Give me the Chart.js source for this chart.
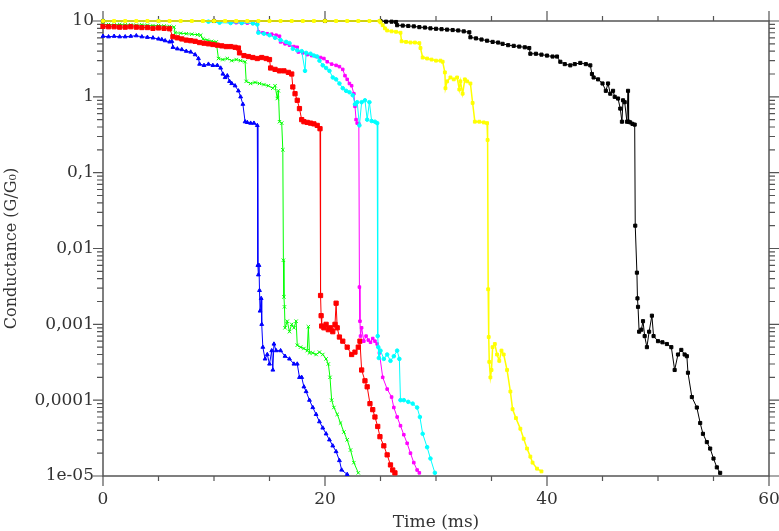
<!DOCTYPE html>
<html>
<head>
<meta charset="utf-8">
<script src="https://cdn.jsdelivr.net/npm/chart.js@4.4.0/dist/chart.umd.min.js"></script>
<style>
  html, body { margin: 0; padding: 0; background: #fff; }
  #wrap { width: 779px; height: 531px; }
</style>
</head>
<body>
<div id="wrap"><canvas id="chart"></canvas></div>
<script>
// axis ticks
const xMajor = [0, 20, 40, 60];
const yTicks = [1e-5, 1e-4, 1e-3, 1e-2, 1e-1, 1, 10];
const yTickLabels = ['1e-05', '0,0001', '0,001', '0,01', '0,1', '1', '10'];

// traces: [time (ms), conductance (G/G0)]
const blue = [[0,6.3],[0.5,6.2],[1,6.3],[1.5,6.2],[2,6.2],[2.5,6.3],[3,6.4],[3.5,6.2],[4,6.1],[4.5,6.0],[5,5.8],[5.3,5.7],[5.6,5.5],[6.0,5.3],[6.2,5.4],[6.3,4.5],[6.7,4.3],[7.1,4.2],[7.5,4.0],[7.9,3.9],[8.3,3.6],[8.6,3.2],[8.7,2.7],[9.1,2.6],[9.5,2.7],[9.9,2.6],[10.3,2.6],[10.6,2.4],[10.8,2.0],[11.0,1.8],[11.2,1.9],[11.4,1.6],[11.6,1.5],[11.9,1.4],[12.2,1.2],[12.4,1.0],[12.6,0.8],[12.8,0.47],[13.0,0.46],[13.3,0.45],[13.6,0.45],[13.9,0.42],[13.95,0.006],[14.0,0.0045],[14.05,0.006],[14.1,0.0028],[14.15,0.0015],[14.25,0.0022],[14.3,0.001],[14.4,0.0005],[14.6,0.00035],[14.8,0.0004],[15.0,0.0003],[15.2,0.00045],[15.3,0.00025],[15.4,0.00055],[15.6,0.00045],[16.0,0.00045],[16.4,0.00038],[16.8,0.00035],[17.2,0.0003],[17.5,0.0003],[17.7,0.0002],[17.9,0.0002],[18.1,0.00015],[18.3,0.00013],[18.6,0.0001],[18.9,8e-5],[19.2,6.5e-5],[19.5,5.2e-5],[19.8,4.3e-5],[20.1,3.6e-5],[20.4,3.0e-5],[20.7,2.5e-5],[21.0,2.1e-5],[21.3,1.6e-5],[21.5,1.2e-5],[22.0,1.05e-5]];

const green = [[0,9.0],[0.5,9.0],[1,8.9],[1.5,9.0],[2,8.9],[2.5,8.9],[3,8.8],[3.5,8.9],[4,8.8],[4.5,8.7],[5,8.7],[5.5,8.6],[6,8.5],[6.4,8.3],[6.5,7.0],[7,6.9],[7.5,6.8],[8,6.7],[8.5,6.6],[8.8,6.5],[9.0,5.8],[9.4,5.6],[9.8,5.4],[10.2,5.3],[10.4,3.2],[10.8,3.1],[11.2,3.2],[11.6,3.0],[12.0,3.1],[12.4,3.0],[12.8,2.9],[12.9,1.6],[13.3,1.5],[13.7,1.55],[14.1,1.5],[14.5,1.45],[14.9,1.4],[15.3,1.3],[15.5,1.4],[15.7,0.95],[15.8,1.2],[15.9,0.47],[16.1,0.45],[16.2,0.2],[16.25,0.007],[16.3,0.0023],[16.35,0.0017],[16.4,0.0009],[16.6,0.0011],[16.8,0.0008],[17.0,0.001],[17.2,0.0009],[17.4,0.0011],[17.5,0.00053],[17.8,0.0005],[18.1,0.00048],[18.4,0.00045],[18.5,0.00093],[18.6,0.00042],[18.9,0.00042],[19.2,0.0004],[19.5,0.00043],[19.8,0.0004],[20.1,0.00035],[20.3,0.0003],[20.45,0.0002],[20.6,0.0001],[20.8,8e-5],[21.1,6.5e-5],[21.4,5e-5],[21.7,3.8e-5],[22.0,3e-5],[22.3,2.2e-5],[22.6,1.5e-5],[23.0,1.1e-5]];

const red = [[0,8.5],[0.5,8.4],[1,8.4],[1.5,8.3],[2,8.3],[2.5,8.4],[3,8.3],[3.5,8.2],[4,8.2],[4.5,8.0],[5,8.1],[5.5,8.0],[6.0,7.9],[6.3,6.2],[6.7,6.0],[7.1,5.8],[7.5,5.6],[7.9,5.5],[8.3,5.4],[8.7,5.2],[9.1,5.1],[9.5,5.0],[9.9,4.9],[10.3,4.8],[10.7,4.7],[11.1,4.6],[11.5,4.6],[11.9,4.5],[12.2,4.4],[12.3,3.8],[12.7,3.5],[13.1,3.4],[13.5,3.3],[13.9,3.2],[14.3,3.3],[14.7,3.2],[15.0,3.1],[15.1,2.4],[15.5,2.3],[15.9,2.2],[16.3,2.2],[16.7,2.1],[17.0,2.0],[17.1,1.35],[17.3,1.1],[17.5,0.9],[17.7,0.7],[17.9,0.5],[18.1,0.47],[18.4,0.46],[18.7,0.45],[19.0,0.44],[19.3,0.42],[19.55,0.38],[19.6,0.0024],[19.65,0.0013],[19.7,0.00095],[19.9,0.0009],[20.1,0.001],[20.3,0.00085],[20.5,0.0009],[20.7,0.0008],[20.9,0.001],[21.0,0.0019],[21.1,0.0009],[21.3,0.00068],[21.6,0.0006],[22.0,0.0005],[22.4,0.0004],[22.7,0.00043],[23.0,0.0005],[23.15,0.0006],[23.3,0.00025],[23.6,0.00018],[23.8,0.00015],[24.05,9e-5],[24.3,7.5e-5],[24.5,6e-5],[24.75,4.5e-5],[24.95,3.3e-5],[25.3,2.5e-5],[25.6,1.9e-5],[25.9,1.4e-5],[26.1,1.2e-5],[26.3,1.1e-5]];

const magenta = [[0,10],[5,10],[10,10],[11.5,9.6],[12.0,9.5],[12.5,9.4],[13.0,9.4],[13.5,9.3],[13.9,9.2],[14.0,7.2],[14.4,7.0],[14.8,6.8],[15.2,6.7],[15.6,6.5],[15.9,6.3],[16.0,5.3],[16.4,5.0],[16.8,4.8],[17.2,4.6],[17.5,4.5],[17.6,3.9],[18.0,3.8],[18.4,3.6],[18.8,3.5],[19.2,3.4],[19.6,3.3],[19.9,3.2],[20.2,2.9],[20.6,2.7],[21.0,2.6],[21.3,2.5],[21.6,2.3],[21.8,1.9],[22.0,1.7],[22.2,1.5],[22.4,1.4],[22.6,1.1],[22.7,0.75],[22.8,0.5],[22.9,0.45],[23.05,0.44],[23.1,0.0031],[23.15,0.0011],[23.2,0.0007],[23.3,0.0009],[23.5,0.0006],[23.7,0.0007],[23.9,0.00062],[24.1,0.00058],[24.3,0.00065],[24.5,0.0006],[24.7,0.00055],[24.9,0.00042],[25.2,0.0002],[25.6,0.00014],[26.0,0.00011],[26.2,8e-5],[26.5,6e-5],[26.8,4.6e-5],[27.1,3.5e-5],[27.4,2.7e-5],[27.7,2.0e-5],[28.0,1.5e-5],[28.3,1.2e-5],[28.5,1.1e-5]];

const cyan = [[0,10],[5,10],[9.5,9.8],[10.5,9.5],[11.5,9.4],[12.5,9.4],[13.5,9.3],[13.9,9.0],[14.0,7.0],[14.5,6.8],[15.0,6.5],[15.5,6.0],[16.0,5.6],[16.5,5.3],[16.8,5.1],[17.1,4.3],[17.5,4.1],[17.9,4.0],[18.2,2.2],[18.3,3.8],[18.7,3.7],[19.0,3.5],[19.3,3.4],[19.5,3.0],[19.8,2.6],[20.1,2.4],[20.4,2.2],[20.7,1.8],[21.0,1.7],[21.3,1.5],[21.6,1.3],[21.9,1.2],[22.2,1.15],[22.5,1.05],[22.7,0.8],[22.9,0.85],[23.1,0.42],[23.3,0.85],[23.6,0.9],[23.8,0.5],[24.0,0.85],[24.2,0.48],[24.5,0.47],[24.7,0.45],[24.75,0.0007],[24.8,0.0005],[24.85,0.00036],[25.0,0.00045],[25.3,0.00035],[25.6,0.0004],[25.9,0.00033],[26.2,0.00038],[26.5,0.00045],[26.7,0.00035],[26.8,0.0001],[27.1,1.0e-4],[27.5,9.5e-5],[27.9,9e-5],[28.3,8e-5],[28.55,6e-5],[28.8,3.6e-5],[29.2,2.4e-5],[29.5,1.7e-5],[29.9,1.1e-5]];

const yellow = [[0,10],[1,10],[2,10],[3,10],[4,10],[5,10],[6,10],[7,10],[8,10],[9,10],[10,10],[11,10],[12,10],[13,10],[14,10],[15,10],[16,10],[17,10],[18,10],[19,10],[20,10],[21,10],[22,10],[23,10],[24,10],[24.9,10],[25.0,9.6],[25.2,8.8],[25.4,8.0],[25.6,7.5],[26.0,7.3],[26.4,7.2],[26.8,7.0],[26.9,5.4],[27.3,5.3],[27.7,5.2],[28.1,5.2],[28.5,5.1],[28.6,4.4],[28.8,3.3],[29.2,3.2],[29.6,3.1],[30.0,3.0],[30.4,3.0],[30.6,2.9],[30.8,2.1],[30.85,1.3],[31.0,1.6],[31.3,1.8],[31.6,1.7],[31.9,1.8],[32.1,1.25],[32.2,1.6],[32.4,1.1],[32.6,1.7],[32.8,1.6],[33.1,1.5],[33.3,0.83],[33.5,0.47],[33.9,0.47],[34.3,0.46],[34.6,0.45],[34.65,0.27],[34.7,0.0029],[34.75,0.00068],[34.8,0.00032],[34.9,0.0002],[35.0,0.00025],[35.1,0.0005],[35.3,0.00055],[35.5,0.0004],[35.7,0.00033],[35.9,0.00045],[36.1,0.0004],[36.4,0.00025],[36.7,0.00013],[36.9,7.6e-5],[37.2,5.8e-5],[37.6,4.2e-5],[37.9,3.1e-5],[38.2,2.3e-5],[38.5,1.8e-5],[38.7,1.5e-5],[39.1,1.25e-5],[39.5,1.15e-5]];

const black = [[0,10],[10,10],[20,10],[25,10],[25.5,9.8],[26.0,9.8],[26.4,9.7],[26.5,8.8],[27.0,8.7],[27.5,8.6],[28.0,8.5],[28.5,8.3],[29.0,8.2],[29.5,8.0],[30.0,7.9],[30.5,7.8],[31.0,7.7],[31.5,7.6],[32.0,7.5],[32.5,7.3],[33.0,7.1],[33.1,6.1],[33.6,5.9],[34.1,5.7],[34.6,5.5],[35.1,5.3],[35.6,5.2],[36.0,5.0],[36.5,4.8],[37.0,4.7],[37.5,4.6],[38.0,4.5],[38.4,4.4],[38.5,3.7],[39.0,3.7],[39.5,3.6],[40.0,3.5],[40.5,3.4],[40.9,3.4],[41.2,2.9],[41.6,2.7],[42.1,2.6],[42.5,2.7],[43.0,2.8],[43.5,2.7],[43.9,2.6],[44.05,2.0],[44.2,1.8],[44.6,1.7],[45.0,1.5],[45.3,1.2],[45.5,1.5],[45.7,1.1],[45.95,1.2],[46.1,1.0],[46.4,0.95],[46.6,0.7],[46.75,0.47],[46.85,0.9],[47.0,0.85],[47.2,0.47],[47.3,1.2],[47.35,0.47],[47.5,0.46],[47.7,0.44],[47.9,0.43],[47.95,0.02],[48.1,0.0048],[48.15,0.0022],[48.2,0.0017],[48.3,0.0008],[48.5,0.00085],[48.65,0.0011],[48.8,0.0007],[49.0,0.0005],[49.2,0.0008],[49.45,0.0013],[49.6,0.0007],[50.0,0.0006],[50.4,0.00058],[50.8,0.00055],[51.2,0.0005],[51.5,0.00025],[51.8,0.0004],[52.1,0.00046],[52.4,0.0004],[52.6,0.00038],[52.7,0.00023],[53.05,1.1e-4],[53.5,8e-5],[53.8,5e-5],[54.05,3.6e-5],[54.4,2.8e-5],[54.7,2.3e-5],[55.0,1.7e-5],[55.3,1.3e-5],[55.6,1.1e-5]];

const traces = [
  { pts: yellow,  color: '#ffff00', style: 'rect',     r: 2,   w: 1.5 },
  { pts: black,   color: '#000000', style: 'rect',     r: 2.2, w: 1 },
  { pts: cyan,    color: '#00ffff', style: 'circle',   r: 1.8, w: 1 },
  { pts: magenta, color: '#ff00ff', style: 'rect',     r: 1.8, w: 1 },
  { pts: red,     color: '#ff0000', style: 'rect',     r: 3,   w: 1 },
  { pts: green,   color: '#00ff00', style: 'crossRot', r: 2.4, w: 1 },
  { pts: blue,    color: '#0000ff', style: 'triangle', r: 2.2, w: 1 }
];

const FONT = '"DejaVu Serif", "Liberation Serif", serif';
const INK = '#333';

// frame and minor/major ticks on all four sides (drawn under the traces)
const framePlugin = {
  id: 'frame',
  beforeDatasetsDraw(chart) {
    const { ctx, chartArea: a, scales } = chart;
    const xs = scales.x, ys = scales.y;
    ctx.save();
    ctx.strokeStyle = '#555';
    ctx.lineWidth = 1.5;
    ctx.strokeRect(a.left, a.top, a.right - a.left, a.bottom - a.top);
    ctx.lineWidth = 1.2;
    ctx.beginPath();
    for (let v = 0; v <= 60; v += 5) {
      const px = xs.getPixelForValue(v);
      const len = xMajor.includes(v) ? 10 : 5;
      ctx.moveTo(px, a.bottom); ctx.lineTo(px, a.bottom + len);
      ctx.moveTo(px, a.top); ctx.lineTo(px, a.top - len);
    }
    for (let e = -5; e <= 1; e++) {
      for (let m = 1; m <= 9; m++) {
        const v = m * Math.pow(10, e);
        if (v > 10.0001) break;
        const py = ys.getPixelForValue(v);
        const len = m === 1 ? 10 : 6;
        ctx.moveTo(a.left, py); ctx.lineTo(a.left - len, py);
        ctx.moveTo(a.right, py); ctx.lineTo(a.right + len, py);
      }
    }
    ctx.stroke();
    ctx.restore();
  }
};

new Chart(document.getElementById('chart'), {
  type: 'line',
  data: {
    datasets: traces.map(t => ({
      data: t.pts.map(p => ({ x: p[0], y: p[1] })),
      borderColor: t.color,
      backgroundColor: t.color,
      borderWidth: t.w,
      pointStyle: t.style,
      pointRadius: t.r,
      pointBorderWidth: 1,
      pointBorderColor: t.color,
      tension: 0,
      fill: false,
      clip: 4
    }))
  },
  options: {
    responsive: true,
    maintainAspectRatio: false,
    animation: false,
    layout: { padding: { top: 21, right: 10, left: 0, bottom: 0 } },
    plugins: { legend: { display: false }, tooltip: { enabled: false } },
    scales: {
      x: {
        type: 'linear',
        min: 0, max: 60,
        afterFit: s => { s.height = 55; s.paddingLeft = 0; s.paddingRight = 0; },
        afterBuildTicks: s => { s.ticks = xMajor.map(v => ({ value: v })); },
        grid: { display: false, drawTicks: false },
        border: { display: false },
        ticks: { padding: 13, color: INK, font: { family: FONT, size: 17 } },
        title: { display: true, text: 'Time (ms)', color: INK, padding: { top: 0, bottom: -2 }, font: { family: FONT, size: 17 } }
      },
      y: {
        type: 'logarithmic',
        min: 1e-5, max: 10,
        afterFit: s => { s.width = 103; s.paddingTop = 0; s.paddingBottom = 0; },
        afterBuildTicks: s => { s.ticks = yTicks.map(v => ({ value: v })); },
        grid: { display: false, drawTicks: false },
        border: { display: false },
        ticks: {
          padding: 9, color: INK, font: { family: FONT, size: 17 },
          callback: (v) => { const i = yTicks.indexOf(v); return i >= 0 ? yTickLabels[i] : ''; }
        },
        title: { display: true, text: 'Conductance (G/G\u2080)', color: INK, padding: { top: 2, bottom: 4 }, font: { family: FONT, size: 16 } }
      }
    }
  },
  plugins: [framePlugin]
});
</script>
</body>
</html>
